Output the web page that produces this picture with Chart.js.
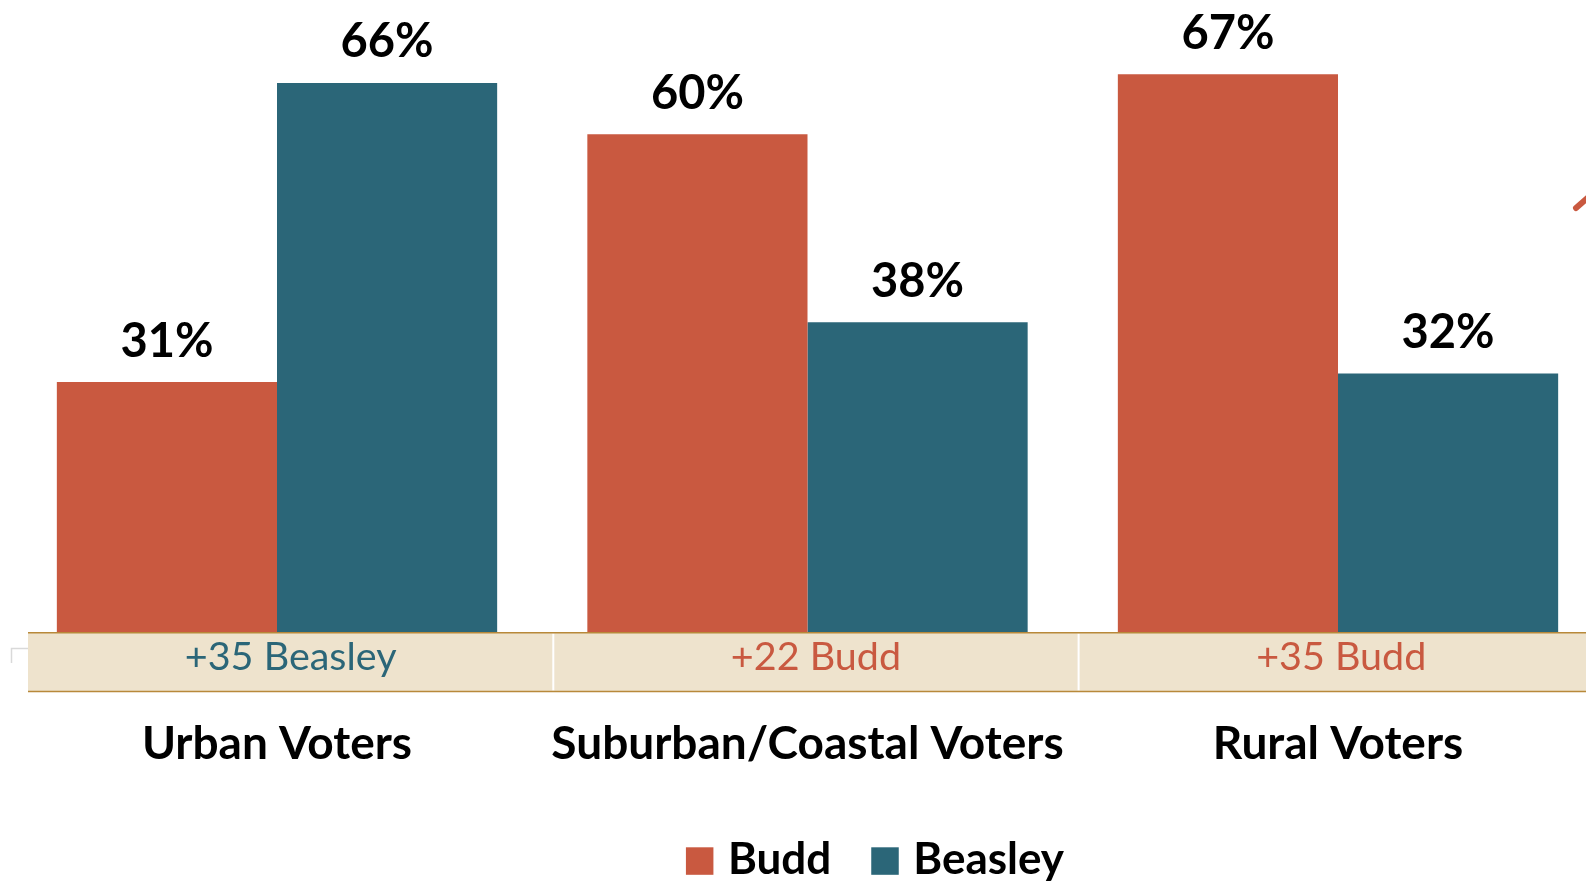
<!DOCTYPE html>
<html><head><meta charset="utf-8">
<style>
html,body{margin:0;padding:0;overflow:hidden;background:#fff;width:1586px;height:882px}
#wrap{position:absolute;left:0;top:0;width:1620px;height:882px}
</style>
<script src="https://cdn.jsdelivr.net/npm/chart.js@4.4.1/dist/chart.umd.min.js"></script>
</head><body><div id="wrap"><canvas id="c" width="1620" height="882"></canvas></div>
<script>
const categories = ['Urban Voters', 'Suburban/Coastal Voters', 'Rural Voters'];
const buddValues = [31, 60, 67];
const beasleyValues = [66, 38, 32];
const marginLabels = ['+35 Beasley', '+22 Budd', '+35 Budd'];
const marginLeader = [1, 0, 0];
const seriesNames = ['Budd', 'Beasley'];
const seriesColors = ['#C95940', '#2B6678'];

const FONT = 'Lato, "Open Sans", sans-serif';

const deco = {
  id: 'deco',
  afterDatasetsDraw(chart) {
    const ctx = chart.ctx, ca = chart.chartArea, xs = chart.scales.x;
    ctx.save();
    // value labels
    ctx.font = 'bold 47px ' + FONT;
    ctx.fillStyle = '#000';
    ctx.textAlign = 'center';
    ctx.textBaseline = 'alphabetic';
    chart.data.datasets.forEach((ds, i) => {
      chart.getDatasetMeta(i).data.forEach((el, j) => {
        ctx.fillText(ds.data[j] + '%', el.x, el.y - 25.5);
      });
    });
    // margin band
    const bandTop = ca.bottom, bandBottom = ca.bottom + 59;
    const catW = xs.getPixelForValue(1) - xs.getPixelForValue(0);
    const bandLeft = ca.left + 16.25;
    const colW = catW - 5.2;
    ctx.fillStyle = '#EEE3CD';
    ctx.fillRect(bandLeft, bandTop, chart.width - bandLeft, bandBottom - bandTop);
    ctx.strokeStyle = '#ffffff';
    ctx.lineWidth = 2;
    for (let k = 1; k < categories.length; k++) {
      const x = bandLeft + k * colW;
      ctx.beginPath(); ctx.moveTo(x, bandTop + 1); ctx.lineTo(x, bandBottom - 1); ctx.stroke();
    }
    ctx.strokeStyle = '#B8893A';
    ctx.lineWidth = 1.6;
    ctx.beginPath(); ctx.moveTo(bandLeft, bandTop + 0.3); ctx.lineTo(chart.width, bandTop + 0.3); ctx.stroke();
    ctx.beginPath(); ctx.moveTo(bandLeft, bandBottom); ctx.lineTo(chart.width, bandBottom); ctx.stroke();
    ctx.font = '39.5px ' + FONT;
    marginLabels.forEach((t, j) => {
      ctx.fillStyle = seriesColors[marginLeader[j]];
      ctx.fillText(t, bandLeft + (j + 0.5) * colW, bandTop + 37);
    });
    // small corner mark
    ctx.strokeStyle = '#D9D9D9';
    ctx.lineWidth = 1.5;
    ctx.beginPath(); ctx.moveTo(11.5, 663); ctx.lineTo(11.5, 648.5); ctx.lineTo(bandLeft, 648.5); ctx.stroke();
    // category labels
    ctx.font = 'bold 46px ' + FONT;
    ctx.fillStyle = '#000';
    categories.forEach((c, j) => {
      ctx.fillText(c, xs.getPixelForValue(j), ca.bottom + 126.5);
    });
    // legend
    ctx.font = 'bold 44px ' + FONT;
    const box = 27.5, gapT = 14.5, gapI = 40;
    const widths = seriesNames.map(n => ctx.measureText(n).width);
    let total = 0;
    widths.forEach((w, i) => { total += box + gapT + w + (i < widths.length - 1 ? gapI : 0); });
    let lx = (ca.left + ca.right) / 2 + 67.5 - total / 2;
    ctx.textAlign = 'left';
    seriesNames.forEach((n, i) => {
      ctx.fillStyle = seriesColors[i];
      ctx.fillRect(lx, ca.bottom + 214.8, box, box);
      lx += box + gapT;
      ctx.fillStyle = '#000';
      ctx.fillText(n, lx, ca.bottom + 241.5);
      lx += widths[i] + gapI;
    });
    // decorative stroke at top right
    ctx.strokeStyle = seriesColors[0];
    ctx.lineWidth = 6;
    ctx.lineCap = 'round';
    ctx.beginPath(); ctx.moveTo(1576, 208); ctx.lineTo(1592, 194); ctx.stroke();
    ctx.restore();
  }
};

function draw() {
  new Chart(document.getElementById('c'), {
    type: 'bar',
    data: {
      labels: categories,
      datasets: [
        { label: seriesNames[0], data: buddValues, backgroundColor: seriesColors[0], categoryPercentage: 0.83, barPercentage: 1.0 },
        { label: seriesNames[1], data: beasleyValues, backgroundColor: seriesColors[1], categoryPercentage: 0.83, barPercentage: 1.0 }
      ]
    },
    options: {
      responsive: false,
      animation: false,
      devicePixelRatio: 1,
      layout: { padding: { left: 11.75, right: 16.75, top: 0, bottom: 249.5 } },
      plugins: { legend: { display: false }, tooltip: { enabled: false } },
      scales: {
        x: { display: false },
        y: { display: false, min: 1.7, max: 75.7 }
      }
    },
    plugins: [deco]
  });
}
if (document.fonts && document.fonts.load) {
  Promise.all([
    document.fonts.load('bold 47px Lato'),
    document.fonts.load('37px Lato')
  ]).then(draw, draw);
} else { draw(); }
</script>
</body></html>
